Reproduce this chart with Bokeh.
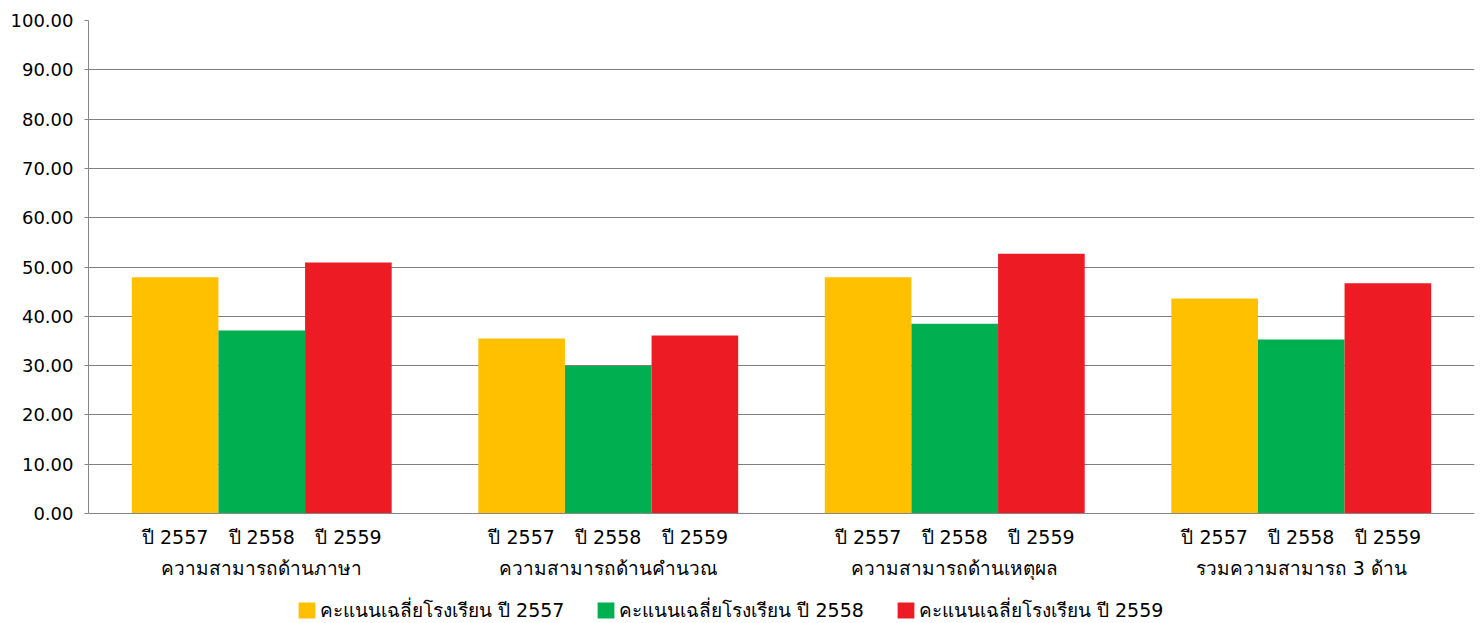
from bokeh.plotting import figure
from bokeh.models import (FactorRange, Range1d, FixedTicker, NumeralTickFormatter,
                          ColumnDataSource, Legend, LegendItem)
from bokeh.embed import file_html
from bokeh.resources import INLINE

groups = ["ความสามารถด้านภาษา", "ความสามารถด้านคำนวณ", "ความสามารถด้านเหตุผล", "รวมความสามารถ 3 ด้าน"]
years = ["ปี 2557", "ปี 2558", "ปี 2559"]
series_names = ["คะแนนเฉลี่ยโรงเรียน ปี 2557", "คะแนนเฉลี่ยโรงเรียน ปี 2558", "คะแนนเฉลี่ยโรงเรียน ปี 2559"]
score_2557 = [47.9, 35.5, 47.9, 43.6]
score_2558 = [37.1, 29.9, 38.5, 35.3]
score_2559 = [50.9, 36.1, 52.7, 46.7]
colors = ["#FFC000", "#00B050", "#ED1C24"]
y_ticks = [0, 10, 20, 30, 40, 50, 60, 70, 80, 90, 100]

series = [score_2557, score_2558, score_2559]
factors = [(g, y) for g in groups for y in years]

FONT = "DejaVu Sans"

# the frame also covers the label / legend area below the value 0
PLOT_H = 493
BELOW = 110
y_min = -100.0 * BELOW / PLOT_H

p = figure(x_range=FactorRange(*factors, factor_padding=0, group_padding=1.0,
                               range_padding=0.5, range_padding_units="absolute"),
           y_range=Range1d(y_min, 100),
           frame_width=1386, frame_height=PLOT_H + BELOW,
           min_border_left=88, min_border_top=20, min_border_right=8, min_border_bottom=0,
           output_backend="svg", toolbar_location=None)

renderers = []
for j, (vals, col) in enumerate(zip(series, colors)):
    src = ColumnDataSource(dict(x=[(g, years[j]) for g in groups], top=vals))
    r = p.vbar(x="x", top="top", bottom=0, width=1.0, source=src, fill_color=col, line_color=None)
    renderers.append(r)

p.yaxis.ticker = FixedTicker(ticks=y_ticks)
p.yaxis.bounds = (0, 100)
p.yaxis.formatter = NumeralTickFormatter(format="0.00")
p.yaxis.major_label_text_font = FONT
p.yaxis.major_label_text_font_size = "18px"
p.yaxis.major_label_text_color = "#000000"
p.yaxis.major_label_standoff = 11
p.yaxis.axis_line_color = "#868686"
p.yaxis.major_tick_line_color = "#868686"
p.yaxis.major_tick_in = 0
p.yaxis.major_tick_out = 4
p.yaxis.minor_tick_line_color = None

p.xaxis.fixed_location = 0
p.xaxis.axis_line_color = "#868686"
p.xaxis.major_tick_line_color = None
p.xaxis.minor_tick_line_color = None
p.xaxis.major_label_text_font = FONT
p.xaxis.major_label_text_font_size = "19px"
p.xaxis.major_label_text_color = "#000000"
p.xaxis.major_label_standoff = 6
p.xaxis.group_text_font = FONT
p.xaxis.group_text_font_size = "19px"
p.xaxis.group_text_font_style = "normal"
p.xaxis.group_text_color = "#000000"
p.xaxis.separator_line_color = None

p.xgrid.grid_line_color = None
p.ygrid.grid_line_color = "#808080"
p.ygrid.grid_line_width = 1
p.outline_line_color = None

legend = Legend(items=[LegendItem(label=n, renderers=[r]) for n, r in zip(series_names, renderers)],
                orientation="horizontal", location=(208, -2),
                label_text_font=FONT, label_text_font_size="19px", label_text_color="#000000",
                glyph_width=21, glyph_height=20, spacing=31, padding=0, margin=0,
                border_line_color=None, background_fill_alpha=0, label_standoff=3)
p.add_layout(legend, "center")

open("out.html", "w").write(file_html(p, INLINE))
